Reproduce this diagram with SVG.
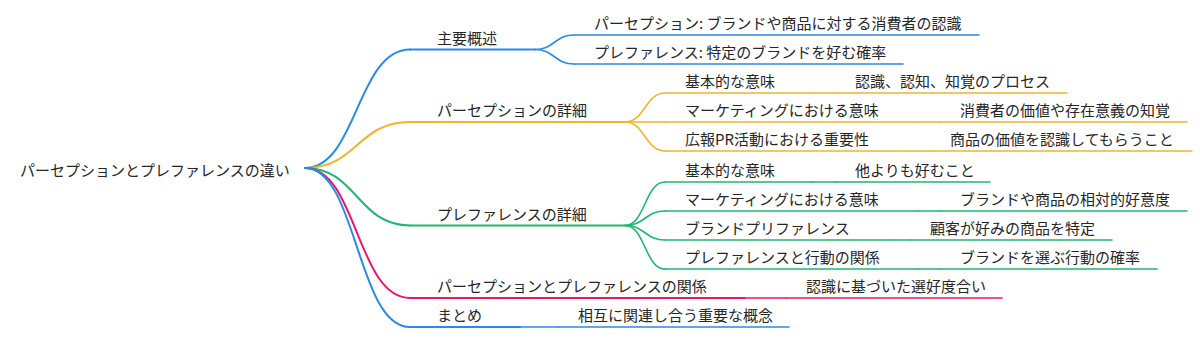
<svg xmlns="http://www.w3.org/2000/svg" width="1200" height="338" viewBox="0 0 1200 338">
<style>
text{font-family:"Noto Sans CJK JP","Noto Sans",sans-serif;font-size:15px;fill:#262626}
path{fill:none;stroke-linecap:round}
.b{stroke:#2a8ae6}.o{stroke:#f0b430}.g{stroke:#20b573}.p{stroke:#e8196c}
.l1{stroke-width:2}.l2{stroke-width:1.6}
</style>
<rect width="1200" height="338" fill="#fff"/>
<g id="connectors">
<path class="b l1" d="M305,168 C357,168 357,49.5 410,49.5"/>
<path class="o l1" d="M305,168 C357,168 357,122 410,122"/>
<path class="g l1" d="M305,168 C357,168 357,225.5 410,225.5"/>
<path class="p l1" d="M305,168 C357,168 357,298 410,298"/>
<path class="b l1" d="M305,168 C357,168 357,327 410,327"/>
<path class="b l2" d="M535,49.5 C554.5,49.5 554.5,35 574,35"/>
<path class="b l2" d="M535,49.5 C554.5,49.5 554.5,64 574,64"/>
<path class="o l2" d="M625,122 C645,122 645,93 665,93"/>
<path class="o l2" d="M625,122 C645,122 645,122 665,122"/>
<path class="o l2" d="M625,122 C645,122 645,151 665,151"/>
<path class="g l2" d="M625,225.5 C645,225.5 645,182 665,182"/>
<path class="g l2" d="M625,225.5 C645,225.5 645,211 665,211"/>
<path class="g l2" d="M625,225.5 C645,225.5 645,240 665,240"/>
<path class="g l2" d="M625,225.5 C645,225.5 645,269 665,269"/>
<path class="p l2" d="M745,298 H786"/>
<path class="b l2" d="M520,327 H558"/>
<path class="o l2" d="M813,93 H835"/>
<path class="o l2" d="M918,122 H940"/>
<path class="o l2" d="M905,151 H930"/>
<path class="g l2" d="M813,182 H835"/>
<path class="g l2" d="M918,211 H940"/>
<path class="g l2" d="M888,240 H910"/>
<path class="g l2" d="M918,269 H940"/>
</g>
<g id="root"><text x="20" y="176">パーセプションとプレファレンスの違い</text></g>
<g id="n-overview"><path class="b l1" d="M410,49.5 H535"/><text x="437" y="43.5">主要概述</text></g>
<g id="n-overview-perception"><path class="b l2" d="M574,35 H979"/><text x="594" y="29">パーセプション: ブランドや商品に対する消費者の認識</text></g>
<g id="n-overview-preference"><path class="b l2" d="M574,64 H903"/><text x="594" y="58">プレファレンス: 特定のブランドを好む確率</text></g>
<g id="n-perception"><path class="o l1" d="M410,122 H625"/><text x="437" y="116">パーセプションの詳細</text></g>
<g id="n-p-basic"><path class="o l2" d="M665,93 H813"/><text x="685" y="87">基本的な意味</text></g>
<g id="n-p-basic-v"><path class="o l2" d="M835,93 H1067"/><text x="855" y="87">認識、認知、知覚のプロセス</text></g>
<g id="n-p-marketing"><path class="o l2" d="M665,122 H918"/><text x="685" y="116">マーケティングにおける意味</text></g>
<g id="n-p-marketing-v"><path class="o l2" d="M940,122 H1187"/><text x="960" y="116">消費者の価値や存在意義の知覚</text></g>
<g id="n-p-pr"><path class="o l2" d="M665,151 H905"/><text x="685" y="145">広報PR活動における重要性</text></g>
<g id="n-p-pr-v"><path class="o l2" d="M930,151 H1192"/><text x="950" y="145">商品の価値を認識してもらうこと</text></g>
<g id="n-preference"><path class="g l1" d="M410,225.5 H625"/><text x="437" y="219.5">プレファレンスの詳細</text></g>
<g id="n-f-basic"><path class="g l2" d="M665,182 H813"/><text x="685" y="176">基本的な意味</text></g>
<g id="n-f-basic-v"><path class="g l2" d="M835,182 H990"/><text x="855" y="176">他よりも好むこと</text></g>
<g id="n-f-marketing"><path class="g l2" d="M665,211 H918"/><text x="685" y="205">マーケティングにおける意味</text></g>
<g id="n-f-marketing-v"><path class="g l2" d="M940,211 H1187"/><text x="960" y="205">ブランドや商品の相対的好意度</text></g>
<g id="n-f-brand"><path class="g l2" d="M665,240 H888"/><text x="685" y="234">ブランドプリファレンス</text></g>
<g id="n-f-brand-v"><path class="g l2" d="M910,240 H1112"/><text x="930" y="234">顧客が好みの商品を特定</text></g>
<g id="n-f-behavior"><path class="g l2" d="M665,269 H918"/><text x="685" y="263">プレファレンスと行動の関係</text></g>
<g id="n-f-behavior-v"><path class="g l2" d="M940,269 H1157"/><text x="960" y="263">ブランドを選ぶ行動の確率</text></g>
<g id="n-relation"><path class="p l1" d="M410,298 H745"/><text x="437" y="292">パーセプションとプレファレンスの関係</text></g>
<g id="n-relation-v"><path class="p l2" d="M786,298 H1002"/><text x="806" y="292">認識に基づいた選好度合い</text></g>
<g id="n-summary"><path class="b l1" d="M410,327 H520"/><text x="437" y="321">まとめ</text></g>
<g id="n-summary-v"><path class="b l2" d="M558,327 H789"/><text x="578" y="321">相互に関連し合う重要な概念</text></g>
</svg>
